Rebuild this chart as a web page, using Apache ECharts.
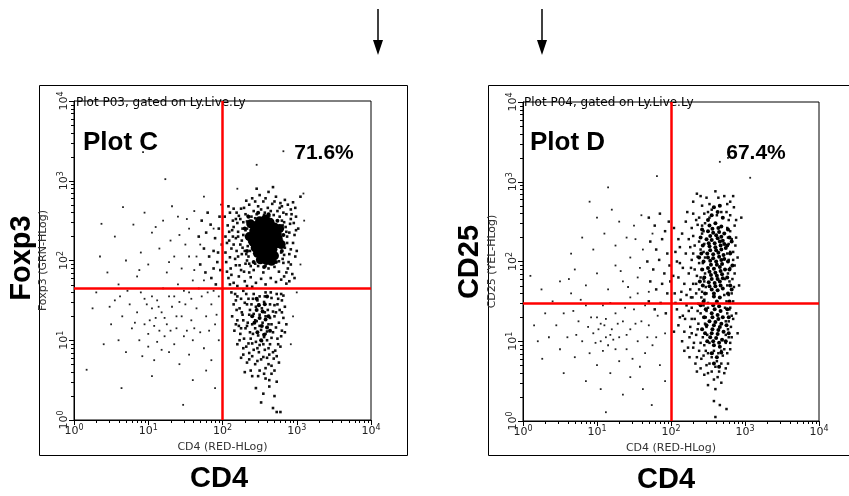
<!DOCTYPE html>
<html>
<head>
<meta charset="utf-8">
<title>Plot C / Plot D</title>
<script src="https://cdn.jsdelivr.net/npm/echarts@6/dist/echarts.min.js"></script>
<style>
  html, body { margin: 0; padding: 0; background: #fff; }
  #chart { width: 849px; height: 496px; }
</style>
</head>
<body>
<div id="chart"></div>
<script>
// tick values on both log axes
const minorTicks = [2, 3, 4, 5, 6, 7, 8, 9, 20, 30, 40, 50, 60, 70, 80, 90,
  200, 300, 400, 500, 600, 700, 800, 900, 2000, 3000, 4000, 5000, 6000, 7000, 8000, 9000];

// quadrant gates (channel values)
const gateC = { x: 100, y: 45 };
const gateD = { x: 100, y: 30 };
const pctC = '71.6%';
const pctD = '67.4%';

// events, as decades [log10 CD4, log10 marker]
// Plot C: solid core of the CD4+ Foxp3+ population
const cCore = [[2.50,2.50],[2.58,2.52],[2.64,2.48],[2.45,2.44],[2.54,2.45],[2.62,2.43],[2.70,2.42],
  [2.42,2.37],[2.50,2.38],[2.58,2.37],[2.66,2.36],[2.73,2.35],[2.44,2.30],[2.52,2.31],[2.60,2.30],
  [2.68,2.29],[2.75,2.28],[2.41,2.23],[2.49,2.24],[2.57,2.23],[2.65,2.22],[2.72,2.21],[2.44,2.16],
  [2.52,2.16],[2.60,2.15],[2.68,2.14],[2.47,2.09],[2.55,2.08],[2.63,2.07],[2.70,2.06],[2.51,2.01],
  [2.59,2.00],[2.66,1.99],[2.38,2.46],[2.77,2.40],[2.36,2.30],[2.79,2.20]];
// Plot C: darker knots (below the gate and around the core)
const cKnot = [[2.46,1.38],[2.54,1.36],[2.50,1.28],[2.58,1.26],[2.53,1.18],[2.60,1.16],[2.47,1.10],
  [2.56,1.07],[2.43,1.22],[2.62,1.30],[2.49,1.44],[2.57,1.45],[2.40,1.30],[2.64,1.12],[2.52,1.00],
  [2.46,1.52],[2.60,1.55],[2.35,2.55],[2.48,2.60],[2.62,2.58],[2.74,2.50],[2.82,2.32],[2.80,2.12],
  [2.72,1.98],[2.56,1.92],[2.42,1.98],[2.33,2.12],[2.30,2.40]];
// Plot C: the CD4+ cloud around and below the core
const cCloud = [[2.10,2.60],[2.18,2.52],[2.25,2.65],[2.31,2.58],[2.36,2.70],[2.42,2.62],[2.48,2.68],
  [2.55,2.74],[2.61,2.66],[2.67,2.71],[2.74,2.62],[2.80,2.68],[2.86,2.58],[2.92,2.64],[2.99,2.55],
  [2.07,2.44],[2.13,2.38],[2.20,2.47],[2.27,2.40],[2.33,2.49],[2.37,2.30],[2.80,2.50],[2.85,2.42],
  [2.90,2.35],[2.96,2.47],[3.02,2.40],[2.06,2.22],[2.12,2.15],[2.18,2.28],[2.24,2.20],[2.30,2.12],
  [2.35,2.05],[2.80,2.25],[2.84,2.16],[2.90,2.08],[2.95,2.22],[3.00,2.12],[2.05,1.98],[2.11,1.90],
  [2.17,2.02],[2.23,1.94],[2.29,1.86],[2.36,1.96],[2.42,1.88],[2.48,1.93],[2.55,1.85],[2.62,1.90],
  [2.70,1.92],[2.76,1.86],[2.82,1.97],[2.88,1.90],[2.94,1.83],[2.08,1.78],[2.15,1.72],[2.22,1.80],
  [2.30,1.74],[2.38,1.79],[2.45,1.72],[2.52,1.77],[2.58,1.70],[2.65,1.78],[2.72,1.73],[2.79,1.76],
  [2.86,1.71],[2.40,2.78],[2.50,2.82],[2.62,2.86],[2.72,2.80],[2.84,2.76],[2.95,2.73],[3.05,2.80],
  [2.28,2.32],[2.34,2.18],[2.78,2.33],[2.79,2.10],[2.38,1.93],[2.15,2.65],[2.22,2.56],[2.28,2.48],
  [2.33,2.40],[2.39,2.55],[2.46,2.58],[2.57,2.60],[2.69,2.57],[2.77,2.55],[2.83,2.48],[2.87,2.30],
  [2.83,2.07],[2.76,1.99],[2.58,1.93],[2.44,1.96],[2.33,2.00],[2.26,2.08],[2.19,2.12],[2.14,2.30],
  [2.09,2.36],[2.21,2.36],[2.92,2.52],[2.97,2.32],[2.89,1.98],
  [2.03,2.55],[2.08,2.68],[2.14,2.50],[2.19,2.60],[2.24,2.52],[2.29,2.66],[2.34,2.56],[2.04,2.30],
  [2.09,2.25],[2.15,2.42],[2.21,2.30],[2.26,2.25],[2.31,2.38],[2.36,2.24],[2.04,2.10],[2.10,2.04],
  [2.15,2.20],[2.21,2.05],[2.27,2.16],[2.32,2.08],[2.37,2.12],[2.06,1.86],[2.12,1.82],[2.18,1.94],
  [2.25,1.88],[2.31,1.96],[2.36,1.85],[2.10,1.70],[2.20,1.68],[2.33,1.68],[2.40,1.67],
  [2.78,2.72],[2.82,2.60],[2.88,2.70],[2.93,2.58],[2.98,2.66],[2.81,2.44],[2.86,2.36],[2.91,2.46],
  [2.99,2.38],[2.81,2.18],[2.87,2.22],[2.92,2.14],[2.98,2.05],[2.81,2.02],[2.86,1.85],[2.92,1.95],
  [2.97,1.78],[2.83,1.80],[2.90,1.74],[2.32,2.75],[2.44,2.74],[2.52,2.64],[2.58,2.78],[2.65,2.62],
  [2.70,2.74],[2.77,2.66],[2.46,2.90],[2.68,2.92],[2.56,2.57],[2.63,2.56],[2.44,2.53],
  [1.72,2.50],[1.78,2.35],[1.84,2.45],[1.90,2.28],[1.95,2.40],[1.99,2.20],[1.75,2.15],[1.82,2.05],
  [1.88,2.12],[1.93,1.98],[1.97,1.88],[1.70,1.95],[1.77,1.85],[1.85,1.78],[1.91,1.70],[1.96,2.55],
  [1.80,2.60],[1.68,2.30],[1.88,1.90],[1.94,2.10],
  [2.45,1.42],[2.53,1.40],[2.61,1.38],[2.42,1.33],[2.50,1.32],[2.58,1.30],[2.64,1.28],[2.46,1.24],
  [2.54,1.22],[2.62,1.20],[2.44,1.15],[2.52,1.13],[2.60,1.11],[2.48,1.06],[2.56,1.04],
  [2.12,1.60],[2.20,1.55],[2.28,1.62],[2.35,1.52],[2.42,1.58],[2.50,1.55],[2.58,1.60],[2.66,1.53],
  [2.73,1.58],[2.80,1.50],[2.15,1.45],[2.23,1.40],[2.30,1.47],[2.37,1.38],[2.70,1.44],[2.77,1.38],
  [2.84,1.42],[2.13,1.30],[2.20,1.25],[2.27,1.32],[2.34,1.22],[2.70,1.30],[2.76,1.22],[2.82,1.28],
  [2.16,1.12],[2.24,1.08],[2.31,1.15],[2.38,1.02],[2.68,1.10],[2.74,1.02],[2.80,1.12],[2.20,0.95],
  [2.28,0.90],[2.35,0.96],[2.42,0.88],[2.50,0.94],[2.57,0.88],[2.64,0.95],[2.71,0.87],[2.78,0.92],
  [2.25,0.78],[2.33,0.72],[2.40,0.80],[2.47,0.74],[2.55,0.79],[2.62,0.70],[2.69,0.77],[2.76,0.72],
  [2.30,0.60],[2.40,0.55],[2.50,0.62],[2.58,0.52],[2.66,0.58],[2.73,0.48],[2.45,0.40],[2.55,0.33],
  [2.63,0.42],[2.70,0.30],[2.52,0.22],[2.68,0.15],[2.73,0.10],[2.78,0.10],[2.18,1.50],[2.26,1.35],
  [2.32,1.58],[2.39,1.45],[2.47,1.50],[2.56,1.48],[2.64,1.45],[2.72,1.35],[2.79,1.58],[2.45,0.98],
  [2.53,0.99],[2.60,1.00],[2.66,1.20],[2.40,1.20],[2.37,1.10],[2.22,1.18],[2.86,1.20],[2.29,1.02],
  [2.63,0.82],[2.49,0.85],[2.36,0.84],[2.58,0.65],
  [2.17,1.58],[2.25,1.52],[2.33,1.45],[2.41,1.52],[2.49,1.45],[2.57,1.55],[2.65,1.60],[2.75,1.52],
  [2.82,1.56],[2.19,1.38],[2.28,1.25],[2.36,1.32],[2.44,1.25],[2.57,1.35],[2.68,1.36],[2.74,1.45],
  [2.80,1.35],[2.18,1.20],[2.25,1.15],[2.33,1.18],[2.41,1.08],[2.50,1.18],[2.58,1.08],[2.66,1.03],
  [2.72,1.16],[2.79,1.05],[2.84,1.10],[2.23,1.00],[2.32,0.92],[2.40,0.96],[2.47,0.90],[2.55,0.95],
  [2.62,0.90],[2.68,0.85],[2.75,0.95],[2.28,0.82],[2.36,0.76],[2.44,0.70],[2.52,0.76],[2.60,0.78],
  [2.66,0.68],[2.73,0.80],[2.38,0.62],[2.48,0.55],[2.56,0.58],[2.63,0.50],[2.70,0.62]];
// Plot C: sparse CD4- events and outliers
const cSparse = [[0.37,2.46],[0.66,2.67],[0.55,2.30],[0.80,2.45],[0.95,2.60],[1.05,2.35],[1.20,2.50],
  [1.30,2.25],[1.40,2.55],[1.55,2.40],[1.62,2.62],[1.50,2.20],[1.35,2.05],[1.15,2.15],[0.90,2.10],
  [0.70,2.00],[0.45,1.85],[0.60,1.70],[0.85,1.80],[1.00,1.95],[1.25,1.85],[1.45,1.90],[1.60,1.75],
  [1.65,2.05],[1.55,1.60],[1.40,1.70],[1.20,1.65],[1.05,1.55],[0.90,1.60],[0.75,1.45],[0.55,1.50],
  [0.30,1.60],[0.25,1.40],[0.50,1.20],[0.65,1.30],[0.85,1.35],[0.95,1.20],[1.05,1.40],[1.10,1.28],
  [1.18,1.35],[1.25,1.20],[1.32,1.42],[1.38,1.15],[1.45,1.30],[1.50,1.45],[1.58,1.25],[1.65,1.40],
  [1.72,1.55],[1.78,1.30],[1.85,1.45],[1.90,1.20],[1.95,1.55],[1.70,1.10],[1.60,1.00],[1.48,1.05],
  [1.35,0.95],[1.22,1.05],[1.12,0.98],[1.00,1.08],[0.88,1.00],[0.78,1.15],[0.70,0.85],[0.92,0.80],
  [1.08,0.75],[1.28,0.85],[1.42,0.70],[1.55,0.82],[1.75,0.90],[1.85,0.75],[1.95,1.00],[1.80,1.60],
  [1.15,1.12],[1.02,1.25],[0.98,1.45],[1.28,1.55],[0.60,1.00],[0.40,0.95],[0.17,0.63],[0.64,0.40],
  [1.47,0.19],[1.05,0.55],[1.60,0.50],[1.90,0.40],[0.93,3.36],[1.23,3.02],[2.46,3.20],[2.82,3.37],
  [3.09,2.84],[0.35,2.05],[1.75,2.80],[1.98,2.70],[2.20,2.90],[3.10,2.50],[3.05,1.95],[3.00,1.60],
  [2.95,1.30],[2.92,0.95],[1.08,1.18],[1.14,1.42],[0.82,1.22],[1.22,1.28],[1.35,1.55],[1.48,1.62],
  [1.62,1.88],[1.42,2.32],[1.68,1.65],[1.52,1.12],[0.72,1.62],[1.88,2.40],[1.12,1.50],[0.95,1.52],
  [1.30,1.12],[1.42,1.48],[1.58,1.52],[1.75,1.75],[1.70,2.20],[1.55,2.05],[1.28,1.98],[0.88,1.88],
  [0.62,1.55],[0.48,1.42],[1.00,0.92],[1.18,0.88],[1.38,1.30],[1.62,1.15],[1.82,1.12],[1.78,0.62],
  [1.92,1.32],[1.88,1.62],[1.52,2.52],[1.32,2.68],[1.10,2.42]];

// Plot D: dark CD4+ band
const dCore = [[2.52,2.45],[2.60,2.48],[2.68,2.44],[2.50,2.38],[2.57,2.36],[2.65,2.37],[2.72,2.35],
  [2.48,2.28],[2.55,2.27],[2.63,2.29],[2.70,2.26],[2.52,2.19],[2.60,2.18],[2.67,2.20],[2.74,2.17],
  [2.49,2.10],[2.57,2.09],[2.64,2.11],[2.71,2.08],[2.53,2.01],[2.61,2.00],[2.68,2.02],[2.50,1.92],
  [2.58,1.91],[2.66,1.93],[2.73,1.90],[2.54,1.83],[2.62,1.82],[2.69,1.84],[2.51,1.74],[2.59,1.73],
  [2.66,1.75],[2.55,1.65],[2.63,1.64],[2.70,1.66],[2.58,1.56],[2.66,1.55],[2.57,1.45],[2.65,1.44],
  [2.55,1.35],[2.63,1.33],[2.70,1.30],[2.52,1.25],[2.60,1.24],[2.68,1.22],[2.56,1.15],[2.64,1.14],
  [2.71,1.12],[2.53,1.05],[2.61,1.04],[2.69,1.02],[2.58,0.95],[2.66,0.93],
  [2.56,2.41],[2.64,2.42],[2.53,2.32],[2.61,2.33],[2.68,2.31],[2.51,2.23],[2.59,2.23],[2.66,2.25],
  [2.72,2.22],[2.53,2.14],[2.61,2.14],[2.68,2.15],[2.50,2.05],[2.57,2.04],[2.65,2.06],[2.72,2.03],
  [2.54,1.96],[2.62,1.96],[2.69,1.97],[2.52,1.87],[2.60,1.86],[2.67,1.88],[2.55,1.78],[2.63,1.78],
  [2.70,1.79],[2.52,1.69],[2.60,1.69],[2.67,1.70],[2.58,1.60],[2.62,1.50],[2.59,1.40],[2.67,1.38],
  [2.56,1.30],[2.64,1.28],[2.58,1.20],[2.66,1.18],[2.55,1.10],[2.63,1.09],[2.57,1.00],[2.65,0.98],
  [2.42,2.40],[2.40,2.30],[2.43,2.20],[2.41,2.10],[2.44,2.00],[2.42,1.90],[2.45,1.80],[2.43,1.70],
  [2.46,1.60],[2.44,1.50],[2.47,1.40],[2.45,1.30],[2.48,1.20],[2.46,1.10],[2.49,1.00],[2.38,2.05],
  [2.39,1.75],[2.40,1.45],[2.42,1.15],[2.77,2.40],[2.79,2.30],[2.76,2.20],[2.80,2.10],[2.77,2.00],
  [2.79,1.90],[2.76,1.80],[2.80,1.70],[2.77,1.60],[2.79,1.50],[2.76,1.40],[2.78,1.30],[2.75,1.20],
  [2.78,1.10],[2.74,1.00],[2.82,2.25],[2.83,1.95],[2.82,1.65],[2.55,2.58],[2.63,2.62],[2.70,2.55],
  [2.58,2.68],[2.66,2.70],[2.50,2.52],[2.55,0.85],[2.62,0.80],[2.68,0.86],[2.58,0.72],[2.65,0.68]];
// Plot D: CD4+ cloud
const dCloud = [[2.35,2.85],[2.48,2.80],[2.60,2.88],[2.72,2.82],[2.80,2.75],[2.42,2.70],[2.55,2.65],
  [2.66,2.70],[2.75,2.62],[2.85,2.68],[2.30,2.60],[2.38,2.55],[2.45,2.60],[2.78,2.52],[2.86,2.45],
  [2.20,2.50],[2.28,2.42],[2.36,2.46],[2.42,2.35],[2.80,2.38],[2.88,2.30],[2.15,2.35],[2.24,2.28],
  [2.32,2.20],[2.40,2.15],[2.78,2.22],[2.84,2.12],[2.12,2.18],[2.20,2.10],[2.28,2.02],[2.36,2.06],
  [2.43,1.98],[2.78,2.02],[2.86,1.95],[2.08,2.00],[2.16,1.92],[2.24,1.85],[2.32,1.90],[2.40,1.80],
  [2.46,1.85],[2.77,1.85],[2.83,1.78],[2.10,1.80],[2.18,1.72],[2.26,1.65],[2.34,1.72],[2.42,1.62],
  [2.47,1.68],[2.76,1.70],[2.82,1.60],[2.05,1.60],[2.13,1.52],[2.21,1.45],[2.29,1.55],[2.37,1.47],
  [2.45,1.52],[2.50,1.42],[2.75,1.50],[2.80,1.42],[2.08,1.40],[2.16,1.32],[2.24,1.38],[2.32,1.28],
  [2.40,1.35],[2.47,1.30],[2.76,1.35],[2.84,1.28],[2.10,1.20],[2.18,1.12],[2.26,1.18],[2.34,1.08],
  [2.42,1.15],[2.48,1.18],[2.77,1.15],[2.82,1.05],[2.15,1.00],[2.23,0.92],[2.31,0.98],[2.38,0.88],
  [2.45,0.95],[2.50,0.85],[2.74,0.98],[2.80,0.90],[2.25,0.80],[2.33,0.72],[2.41,0.78],[2.48,0.70],
  [2.55,0.80],[2.62,0.75],[2.70,0.82],[2.77,0.72],[2.35,0.62],[2.45,0.58],[2.55,0.62],[2.63,0.55],
  [2.72,0.60],[2.50,0.45],[2.60,0.40],[2.68,0.48],[2.58,0.25],[2.66,0.20],[2.60,0.05],[2.75,0.15],
  [2.52,2.55],[2.62,2.58],[2.70,2.55],[2.46,2.48],[2.76,2.42],[2.45,2.22],[2.77,2.30],[2.46,2.05],
  [2.76,2.10],[2.45,1.75],[2.73,1.78],[2.48,1.60],[2.72,1.58],[2.50,1.48],[2.73,1.42],[2.48,1.38],
  [2.74,1.25],[2.46,1.22],[2.49,1.08],[2.74,1.08],[2.52,0.98],[2.72,0.90],[2.58,0.88],[2.64,0.85],
  [2.90,2.05],[2.92,1.70],[2.88,1.35],[2.95,2.55],[2.90,1.10],
  [2.30,2.75],[2.40,2.82],[2.52,2.72],[2.64,2.80],[2.76,2.72],[2.84,2.82],[2.34,2.52],[2.42,2.45],
  [2.50,2.62],[2.58,2.68],[2.68,2.62],[2.80,2.58],[2.88,2.52],[2.30,2.32],[2.38,2.25],[2.44,2.38],
  [2.82,2.28],[2.87,2.20],[2.30,2.10],[2.38,1.98],[2.44,2.12],[2.80,2.12],[2.84,2.02],[2.27,1.92],
  [2.35,1.82],[2.43,1.90],[2.80,1.92],[2.86,1.85],[2.30,1.72],[2.38,1.65],[2.44,1.78],[2.79,1.75],
  [2.85,1.68],[2.27,1.55],[2.34,1.60],[2.41,1.55],[2.78,1.58],[2.84,1.50],[2.28,1.42],[2.36,1.38],
  [2.44,1.45],[2.79,1.40],[2.82,1.32],[2.28,1.28],[2.37,1.22],[2.44,1.30],[2.78,1.25],[2.81,1.18],
  [2.28,1.10],[2.36,1.15],[2.43,1.05],[2.78,1.05],[2.80,0.98],[2.30,0.92],[2.40,0.98],[2.47,0.88],
  [2.56,0.85],[2.68,0.88],[2.76,0.85],[2.35,0.80],[2.44,0.82],[2.52,0.72],[2.60,0.68],[2.68,0.72],
  [2.74,0.66],[2.40,0.66],[2.50,0.60],[2.58,0.52],[2.65,0.62],
  [1.70,2.55],[1.78,2.45],[1.85,2.60],[1.92,2.38],[1.97,2.50],[1.72,2.25],[1.80,2.15],[1.88,2.28],
  [1.95,2.10],[1.68,2.00],[1.76,1.90],[1.84,2.02],[1.91,1.85],[1.98,1.95],[1.72,1.75],[1.80,1.65],
  [1.88,1.72],[1.95,1.60],[1.70,1.50],[1.78,1.40],[1.86,1.48],[1.93,1.35],[1.99,1.75],
  [2.04,2.42],[2.10,2.28],[2.06,2.12],[2.12,1.98],[2.03,1.82],[2.14,1.62],[2.06,1.48],[2.12,1.30],
  [2.04,1.12],[2.18,0.88],[2.22,2.62],[2.26,2.18],[2.21,1.58],[2.19,1.28],[2.25,1.05]];
// Plot D: sparse CD4- events and outliers
const dSparse = [[1.15,2.93],[1.81,3.07],[0.10,1.82],[0.26,0.78],[1.12,0.11],[1.74,0.20],[3.07,3.05],
  [2.66,3.25],[2.77,3.30],[0.40,1.50],[0.55,1.35],[0.65,1.60],[0.75,1.25],[0.85,1.45],[0.95,1.10],
  [1.00,1.30],[1.05,1.00],[1.10,1.20],[1.15,0.95],[1.20,1.15],[1.25,1.35],[1.30,1.05],[1.35,1.25],
  [1.40,0.90],[1.45,1.15],[1.50,1.40],[1.55,1.00],[1.60,1.25],[1.65,0.85],[1.08,1.45],[0.90,0.85],
  [0.80,1.00],[0.70,0.80],[0.60,1.05],[0.50,0.90],[0.45,1.20],[0.35,1.05],[0.30,1.35],[1.00,0.70],
  [1.18,0.60],[1.30,0.75],[1.45,0.55],[1.58,0.68],[1.75,0.95],[1.85,0.70],[1.92,1.10],[1.70,1.20],
  [1.80,1.05],[0.85,0.50],[1.05,0.40],[1.35,0.33],[1.62,0.40],[0.55,0.60],[0.50,1.75],[0.70,1.90],
  [0.85,1.70],[1.00,1.85],[1.15,1.65],[1.25,1.95],[1.35,1.75],[1.45,2.05],[1.55,1.80],[1.62,2.15],
  [1.40,2.30],[1.25,2.20],[1.10,2.35],[0.95,2.15],[0.80,2.30],[0.65,2.10],[1.30,2.50],[1.50,2.45],
  [1.60,2.58],[1.20,2.65],[1.00,2.55],[0.90,2.75],[1.45,1.55],[1.55,1.60],[1.65,1.45],[0.25,1.65],
  [0.15,1.20],[0.20,1.00],[1.92,0.50],[1.12,1.28],[1.02,1.15],[1.22,1.02],[1.28,1.22],[0.92,1.30],
  [0.78,1.52],[1.18,1.08],[1.08,0.88],[1.38,1.42],[0.68,1.38],[1.52,1.22],[1.32,1.88],[1.48,0.78],
  [1.12,1.05],[1.05,1.22],[0.98,0.98],[1.25,0.90],[1.40,1.08],[0.88,1.18],[1.70,1.62],[1.58,1.92],
  [1.42,1.68],[1.18,1.48],[0.72,1.08],[1.82,1.32],[1.68,1.05],[1.52,2.28],[1.75,2.35],[0.62,1.78]];

const FONT = 'DejaVu Sans';
const toChannel = p => [Math.pow(10, p[0]), Math.pow(10, p[1])];

const chart = echarts.init(document.getElementById('chart'), null, { renderer: 'canvas' });

const grids = [
  { left: 74, top: 101, width: 297, height: 319 },
  { left: 523, top: 102, width: 296, height: 319 }
];

const expLabel = v => '{b|10}{s|' + Math.round(Math.log10(v)) + '}';
const labelRich = {
  b: { fontSize: 11, fontFamily: FONT, color: '#222' },
  s: { fontSize: 8, fontFamily: FONT, color: '#222', padding: [0, 0, 7, 0] }
};

function logAxis(gridIndex, name, isY) {
  return {
    type: 'log', logBase: 10, min: 1, max: 10000, gridIndex,
    name, nameLocation: 'middle', nameGap: isY ? 25 : 22,
    nameRotate: isY ? 90 : 0,
    nameTextStyle: { fontFamily: FONT, fontSize: 11, color: '#333' },
    axisLine: { show: true, lineStyle: { color: '#000', width: 1 } },
    axisTick: { show: true, length: 5, inside: false, lineStyle: { color: '#000' } },
    axisLabel: { formatter: expLabel, rich: labelRich, margin: isY ? 2 : 4, rotate: isY ? 90 : 0,
      showMinLabel: true, showMaxLabel: true },
    splitLine: { show: false },
    minorTick: { show: false }
  };
}

function dots(data, gridIndex, size, symbol, color) {
  return {
    type: 'scatter', xAxisIndex: gridIndex, yAxisIndex: gridIndex,
    data: data.map(toChannel), symbol, symbolSize: size,
    itemStyle: { color, opacity: 1 }, silent: true, z: 2
  };
}

function gateSeries(gridIndex, gate) {
  return {
    type: 'scatter', xAxisIndex: gridIndex, yAxisIndex: gridIndex, data: [], silent: true,
    markLine: {
      silent: true, symbol: 'none', animation: false,
      label: { show: false },
      lineStyle: { color: '#ff0000', width: 2.5, type: 'solid' },
      data: [{ xAxis: gate.x }, { yAxis: gate.y }]
    },
    z: 5
  };
}

const text = (str, x, y, size, weight, align, vAlign, family) => ({
  type: 'text', x, y,
  style: { text: str, fontSize: size, fontWeight: weight, fontFamily: family || 'Liberation Sans',
    fill: '#000', align: align || 'left', verticalAlign: vAlign || 'alphabetic' }
});

const baseGraphic = [
  // outer frames
  { type: 'rect', shape: { x: 39.5, y: 85.5, width: 368, height: 370 },
    style: { fill: 'none', stroke: '#000', lineWidth: 1 }, z: -1 },
  { type: 'rect', shape: { x: 488.5, y: 85.5, width: 380, height: 370 },
    style: { fill: 'none', stroke: '#000', lineWidth: 1 }, z: -1 },
  text('Plot P03, gated on Ly.Live.Ly', 76, 97, 12, 'normal', 'left', 'alphabetic', FONT),
  text('Plot P04, gated on Ly.Live.Ly', 524, 97, 12, 'normal', 'left', 'alphabetic', FONT),
  text('Plot C', 83, 130, 26, 'bold'),
  text('Plot D', 530, 130, 26, 'bold'),
  text(pctC, 324, 143, 21, 'bold', 'center'),
  text(pctD, 756, 143, 21, 'bold', 'center'),
  text('CD4', 219, 479, 29, 'bold', 'center', 'middle'),
  text('CD4', 666, 480, 29, 'bold', 'center', 'middle'),
  Object.assign(text('Foxp3', 22, 258, 29, 'bold', 'center', 'middle'), { rotation: Math.PI / 2 }),
  Object.assign(text('CD25', 470, 262, 29, 'bold', 'center', 'middle'), { rotation: Math.PI / 2 }),
  // arrows
  { type: 'line', shape: { x1: 378, y1: 9, x2: 378, y2: 44 }, style: { stroke: '#000', lineWidth: 1.5 } },
  { type: 'polygon', shape: { points: [[373, 40], [383, 40], [378, 55]] }, style: { fill: '#000' } },
  { type: 'line', shape: { x1: 542, y1: 9, x2: 542, y2: 44 }, style: { stroke: '#000', lineWidth: 1.5 } },
  { type: 'polygon', shape: { points: [[537, 40], [547, 40], [542, 55]] }, style: { fill: '#000' } }
];

const option = {
  animation: false,
  backgroundColor: '#fff',
  grid: grids.map(g => Object.assign({ show: true, borderColor: '#000', borderWidth: 1,
    backgroundColor: '#fff', containLabel: false }, g)),
  xAxis: [logAxis(0, 'CD4 (RED-HLog)', false), logAxis(1, 'CD4 (RED-HLog)', false)],
  yAxis: [logAxis(0, 'Foxp3 (GRN-HLog)', true), logAxis(1, 'CD25 (YEL-HLog)', true)],
  graphic: baseGraphic,
  series: [
    dots(cSparse, 0, 1.8, 'rect', '#222'),
    dots(cCloud, 0, 2.6, 'rect', '#111'),
    dots(cKnot, 0, 4, 'circle', '#000'),
    dots(cCore, 0, 9, 'circle', '#000'),
    dots(dSparse, 1, 1.8, 'rect', '#222'),
    dots(dCloud, 1, 2.5, 'rect', '#111'),
    dots(dCore, 1, 4, 'circle', '#000'),
    gateSeries(0, gateC),
    gateSeries(1, gateD)
  ]
};

chart.setOption(option);

// minor log ticks, placed through the axes' own scales
const tickGraphic = [];
[0, 1].forEach(gi => {
  minorTicks.forEach(v => {
    const px = chart.convertToPixel({ gridIndex: gi }, [v, 1]);
    const py = chart.convertToPixel({ gridIndex: gi }, [1, v]);
    tickGraphic.push({ type: 'line', silent: true,
      shape: { x1: Math.round(px[0]) + 0.5, y1: px[1], x2: Math.round(px[0]) + 0.5, y2: px[1] + 3 },
      style: { stroke: '#000', lineWidth: 1 } });
    tickGraphic.push({ type: 'line', silent: true,
      shape: { x1: py[0] - 3, y1: Math.round(py[1]) + 0.5, x2: py[0], y2: Math.round(py[1]) + 0.5 },
      style: { stroke: '#000', lineWidth: 1 } });
  });
});
chart.setOption({ graphic: baseGraphic.concat(tickGraphic) });
</script>
</body>
</html>
